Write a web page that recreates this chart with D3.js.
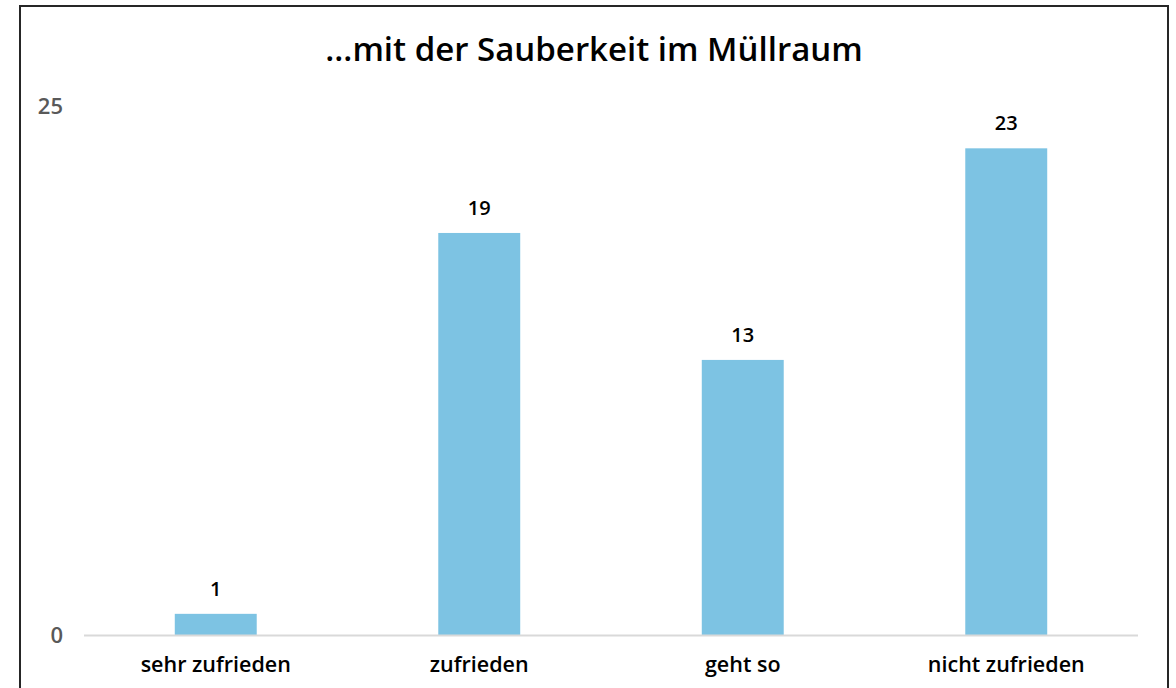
<!DOCTYPE html>
<html>
<head>
<meta charset="utf-8">
<script src="https://cdn.jsdelivr.net/npm/d3@7"></script>
<style>
  body { margin: 0; background: #fff; }
  svg { display: block; }
</style>
</head>
<body>
<div id="chart"></div>
<script>
var categories = ["sehr zufrieden", "zufrieden", "geht so", "nicht zufrieden"];
var values = [1, 19, 13, 23];
var yTicks = [0, 25];
var title = "...mit der Sauberkeit im Müllraum";

var W = 1176, H = 688;
var plotLeft = 84, plotRight = 1138, plotTop = 106, plotBottom = 635;
var font = "'Open Sans', Lato, sans-serif";

var svg = d3.select("#chart")
            .append("svg")
            .attr("width", W)
            .attr("height", H)

// frame
svg.append("rect")
    .attr("x", 20)
    .attr("y", 6)
    .attr("width", 1148)
    .attr("height", 700)
    .style("fill", "#fff")
    .style("stroke", "#262626")
    .style("stroke-width", 2)

var x = d3.scaleBand()
    .domain(categories)
    .range([plotLeft, plotRight])
    .paddingInner(0.689)
    .paddingOuter(0.3445)

var y = d3.scaleLinear()
    .domain([0, 25])
    .range([plotBottom, plotTop])

svg.append("text")
    .attr("x", 594)
    .attr("y", 61)
    .attr("text-anchor", "middle")
    .style("font-family", font)
    .style("font-weight", 600)
    .style("font-size", "33px")
    .style("fill", "#000")
    .text(title)

// y tick labels
svg.append("g")
    .selectAll("text")
    .data(yTicks)
    .enter()
    .append("text")
    .attr("x", 63)
    .attr("y", function(d) { return y(d); })
    .attr("dy", "0.35em")
    .attr("text-anchor", "end")
    .style("font-family", font)
    .style("font-weight", 600)
    .style("font-size", "22px")
    .style("fill", "#595959")
    .text(function(d) { return d; })

// bars
svg.append("g")
    .selectAll("rect")
    .data(values)
    .enter()
    .append("rect")
    .attr("x", function(d, i) { return x(categories[i]); })
    .attr("y", function(d) { return y(d); })
    .attr("width", x.bandwidth())
    .attr("height", function(d) { return y(0) - y(d); })
    .style("fill", "#7DC3E3")

// baseline
svg.append("line")
    .attr("x1", plotLeft)
    .attr("x2", plotRight)
    .attr("y1", y(0) + 0.5)
    .attr("y2", y(0) + 0.5)
    .style("stroke", "#D9D9D9")
    .style("stroke-width", 2)

// value labels
svg.append("g")
    .selectAll("text")
    .data(values)
    .enter()
    .append("text")
    .attr("x", function(d, i) { return x(categories[i]) + x.bandwidth() / 2; })
    .attr("y", function(d) { return y(d) - 18; })
    .attr("text-anchor", "middle")
    .style("font-family", font)
    .style("font-weight", 600)
    .style("font-size", "20px")
    .style("fill", "#000")
    .text(function(d) { return d; })

// category labels
svg.append("g")
    .selectAll("text")
    .data(categories)
    .enter()
    .append("text")
    .attr("x", function(d) { return x(d) + x.bandwidth() / 2; })
    .attr("y", 672)
    .attr("text-anchor", "middle")
    .style("font-family", font)
    .style("font-weight", 600)
    .style("font-size", "21.5px")
    .style("fill", "#000")
    .text(function(d) { return d; })
</script>
</body>
</html>
